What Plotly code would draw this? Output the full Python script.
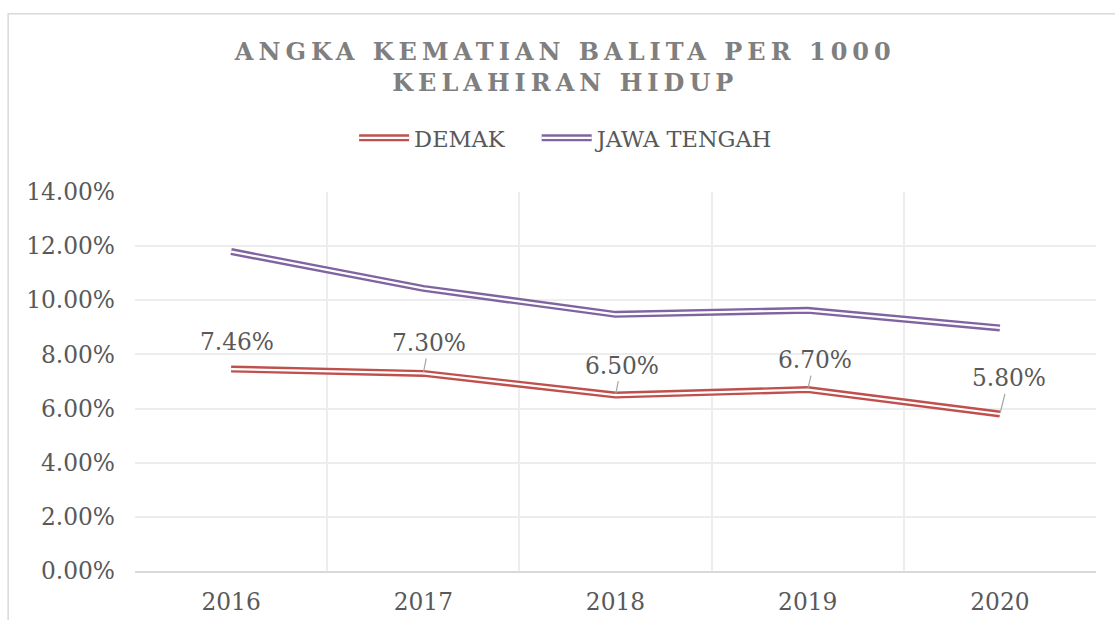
import plotly.graph_objects as go

years = ["2016", "2017", "2018", "2019", "2020"]
demak = [0.0746, 0.0730, 0.0650, 0.0670, 0.0580]
jawa_tengah = [0.1180, 0.1044, 0.0948, 0.0963, 0.0898]
demak_labels = ["7.46%", "7.30%", "6.50%", "6.70%", "5.80%"]
y_ticks = [0, 0.02, 0.04, 0.06, 0.08, 0.10, 0.12, 0.14]

# label offsets in pixels (style only)
label_dx = [6, 6, 6, 7, 9]
label_dy = [-28, -31, -30, -30, -36]
label_leader = [False, True, True, True, True]

RED = "#C0504D"
PURPLE = "#8064A2"
FONT = "DejaVu Serif"
TXT = "#595959"

fig = go.Figure()
series = [("DEMAK", demak, RED, "legend"), ("JAWA TENGAH", jawa_tengah, PURPLE, "legend2")]
for name, vals, col, lg in series:
    fig.add_trace(go.Scatter(x=years, y=vals, mode="lines", name=name,
                             line=dict(color=col, width=7), hoverinfo="skip",
                             legendgroup=name, legend=lg))
    fig.add_trace(go.Scatter(x=years, y=vals, mode="lines", showlegend=False,
                             line=dict(color="white", width=2.2), hoverinfo="skip",
                             legendgroup=name, legend=lg))

for i, (yv, txt, dx, dy, lead) in enumerate(zip(demak, demak_labels, label_dx, label_dy, label_leader)):
    if lead:
        fig.add_annotation(x=i, y=yv, text=txt, showarrow=True, ax=dx, ay=dy,
                           arrowhead=0, arrowwidth=1.2, arrowcolor="#A6A6A6",
                           standoff=1, borderpad=2,
                           font=dict(family=FONT, size=23.3, color=TXT))
    else:
        fig.add_annotation(x=i, y=yv, text=txt, showarrow=False,
                           xshift=dx, yshift=-dy,
                           font=dict(family=FONT, size=23.3, color=TXT))

# chart frame
fig.add_shape(type="rect", xref="paper", yref="paper",
              x0=-0.132, x1=1.2, y0=-0.5, y1=1.47,
              line=dict(color="#D9D9D9", width=1.5), layer="below")

legend_style = dict(orientation="h", xanchor="left", y=1.142, yanchor="middle",
                    font=dict(family=FONT, size=22.5, color=TXT), itemwidth=50,
                    bgcolor="rgba(0,0,0,0)")

fig.update_layout(
    width=1115, height=620,
    paper_bgcolor="white", plot_bgcolor="white",
    margin=dict(l=135, r=19, t=192, b=49, autoexpand=False),
    title=dict(text="ANGKA KEMATIAN BALITA PER 1000<br>KELAHIRAN HIDUP",
               x=0.507, xanchor="center", y=0.903, yanchor="top",
               font=dict(family=FONT, size=24, color="#7F7F7F", weight="bold")),
    legend=dict(x=0.228, **legend_style),
    legend2=dict(x=0.418, **legend_style),
    showlegend=True,
    xaxis=dict(type="category", range=[-0.5, 4.5], tickson="boundaries",
               showgrid=True, gridcolor="#EDEDED", gridwidth=1.5,
               showline=True, linecolor="#D9D9D9", linewidth=1.5,
               ticks="", ticklabelstandoff=9, automargin=False,
               tickfont=dict(family=FONT, size=23.3, color=TXT), zeroline=False),
    yaxis=dict(range=[0, 0.14], tickvals=y_ticks, tickformat=".2%",
               showgrid=True, gridcolor="#EDEDED", gridwidth=1.5,
               showline=False, zeroline=False, ticks="", ticklabelstandoff=19,
               automargin=False,
               tickfont=dict(family=FONT, size=23.3, color=TXT)),
)

post = """
document.body.style.margin = '0';
document.querySelectorAll('.gtitle').forEach(function(t){ t.style.letterSpacing='5px'; });
document.querySelectorAll('.legendlines path').forEach(function(p){
  if (p.getAttribute('data-dbl')) return;
  var c = p.cloneNode(true);
  c.setAttribute('data-dbl','1');
  c.style.stroke = '#ffffff';
  c.style.strokeWidth = '2.2px';
  p.parentNode.appendChild(c);
  p.setAttribute('data-dbl','0');
});
"""
fig.write_html("out.html", post_script=post, config={"displayModeBar": False})
